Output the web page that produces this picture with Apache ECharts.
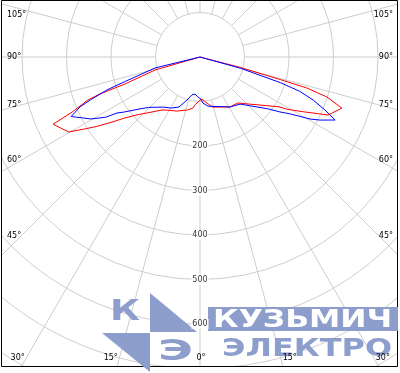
<!DOCTYPE html>
<html><head><meta charset="utf-8">
<script src="https://cdn.jsdelivr.net/npm/echarts@6/dist/echarts.min.js"></script>
<style>html,body{margin:0;padding:0;background:#fff}#c{width:400px;height:373px}</style>
</head><body><div id="c"></div>
<script>
// ---- data (gamma in degrees: + = left half, - = right half; intensity in cd) ----
const redAngles = [90, 73.9, 70.2, 69.7, 69.0, 66.7, 65.4, 60.3, 58.0, 55.9, 53.5, 50.9, 47.4, 43.4, 35, 23, 13, 8, 5.9, 0, -2.8, -8.7, -14, -31, -39.6, -45, -54, -58, -59, -62, -64.6, -65.6, -70.2, -72.5, -73.8, -74.3, -75.5, -90];
const redValues = [0, 105, 179, 240, 270, 313, 363, 340, 305, 277, 246, 217, 192, 173, 145, 132, 122, 116, 108, 97, 95, 105, 116, 131, 134, 149, 186, 212, 228, 262, 298, 316, 339, 299, 250, 187, 93, 0];
const blueAngles = [90, 76.3, 71.9, 70.5, 68.6, 67.4, 65.2, 62.7, 60.4, 57.4, 56.0, 54.1, 49.1, 45.6, 36.5, 29.6, 22.8, 16.8, 12, 7.6, 3, -1.4, -3.7, -9.3, -31, -40.4, -46, -52.8, -55.5, -57.7, -60.6, -62.3, -65, -67, -69.2, -71, -72.3, -74.5, -90];
const blueValues = [0, 104, 177, 222, 265, 292, 319, 298, 282, 251, 225, 211, 178, 162, 140, 132, 122, 101, 87, 84, 90, 95, 104, 112, 131, 139, 158, 193, 218, 239, 284, 305, 335, 305, 272, 237, 190, 94, 0];
const radiusTicks = [200, 300, 400, 500, 600];
const sideAngleLabels = [105, 90, 75, 60, 45];
const bottomAngleLabels = [30, 15, 0];

// ---- layout constants ----
const CX = 200, CY = 57, R_MAX = 900, PX_PER_100 = 44.5;
const R_OUT = R_MAX / 100 * PX_PER_100;
const GRID = '#cdcdcd';
const LOGO = '#8d9ecc';
const FONT = '"DejaVu Sans", sans-serif';

function toPolar(angles, values) {
  return angles.map((g, i) => [values[i], g >= 0 ? g : 360 + g]);
}
function textEl(t, x, y, align, z) {
  return { type: 'text', x: x, y: y, z: z || 16, silent: true,
    style: { text: t, fill: '#000', font: '8px ' + FONT, fontSize: 8, fontFamily: FONT,
      textAlign: align, align: align, textVerticalAlign: 'middle', verticalAlign: 'middle' } };
}
const mctx = document.createElement('canvas').getContext('2d');
function logoText(t, x, yc, size, width, color) {
  const font = 'bold ' + size + 'px ' + FONT;
  mctx.font = font;
  const w = mctx.measureText(t).width;
  return { type: 'text', x: x, y: yc, z: 15, silent: true, scaleX: width / w, scaleY: 1,
    style: { text: t, fill: color, font: font, fontSize: size, fontWeight: 'bold', fontFamily: FONT,
      textAlign: 'left', align: 'left', textVerticalAlign: 'middle', verticalAlign: 'middle' } };
}

const graphics = [];
// masks outside the frame
graphics.push({ type: 'rect', z: 10, silent: true, shape: { x: 0, y: 367, width: 400, height: 6 }, style: { fill: '#fff' } });
graphics.push({ type: 'rect', z: 10, silent: true, shape: { x: 398, y: 0, width: 2, height: 373 }, style: { fill: '#fff' } });
graphics.push({ type: 'rect', z: 10, silent: true, shape: { x: 0, y: 0, width: 1, height: 373 }, style: { fill: '#fff' } });
// frame
graphics.push({ type: 'rect', z: 12, silent: true, shape: { x: 1.5, y: 0.5, width: 396, height: 366 }, style: { fill: null, stroke: '#000', lineWidth: 1 } });
// angle labels
sideAngleLabels.forEach(g => {
  const a = g * Math.PI / 180;
  let y = CY + 179 * Math.cos(a) / Math.sin(a);
  y = Math.max(y, 15);
  graphics.push(textEl(g + '°', 7, y, 'left'));
  graphics.push(textEl(g + '°', 393, y, 'right'));
});
bottomAngleLabels.forEach(g => {
  if (g === 0) { graphics.push(textEl('0°', CX + 1, 358, 'center')); return; }
  const dx = (358 - CY) * Math.tan(g * Math.PI / 180);
  graphics.push(textEl(g + '°', CX - dx - 1.5, 358, 'right'));
  graphics.push(textEl(g + '°', CX + dx + 2, 358, 'left'));
});
// watermark logo
graphics.push({ type: 'polygon', z: 15, silent: true, shape: { points: [[150, 293], [150, 332], [197, 332]] }, style: { fill: LOGO } });
graphics.push({ type: 'polygon', z: 15, silent: true, shape: { points: [[102, 333], [150, 333], [150, 372]] }, style: { fill: LOGO } });
graphics.push(logoText('К', 110, 313, 28, 30, LOGO));
graphics.push(logoText('Э', 158, 353, 28, 35, LOGO));
graphics.push({ type: 'rect', z: 15, silent: true, shape: { x: 208, y: 307, width: 190, height: 24 }, style: { fill: LOGO } });
graphics.push(logoText('КУЗЬМИЧ', 213, 320, 25, 179, '#fff'));
graphics.push(logoText('ЭЛЕКТРО', 222, 349.5, 24, 170, LOGO));

const chart = echarts.init(document.getElementById('c'), null, { renderer: 'canvas' });
chart.setOption({
  animation: false,
  polar: [
    { center: [CX, CY], radius: [PX_PER_100, R_OUT] },
    { center: [CX, CY], radius: [0, R_OUT] }
  ],
  angleAxis: [
    { polarIndex: 0, type: 'value', min: 0, max: 360, interval: 15, startAngle: 270, clockwise: true,
      axisLine: { show: false }, axisTick: { show: false }, axisLabel: { show: false },
      splitLine: { show: true, lineStyle: { color: GRID, width: 1 } } },
    { polarIndex: 1, type: 'value', min: 0, max: 360, startAngle: 270, clockwise: true, show: false,
      axisLine: { show: false }, axisTick: { show: false }, axisLabel: { show: false }, splitLine: { show: false } }
  ],
  radiusAxis: [
    { polarIndex: 0, type: 'value', min: 100, max: R_MAX, interval: 100,
      axisLine: { show: false }, axisTick: { show: false }, axisLabel: { show: false },
      splitLine: { show: true, lineStyle: { color: GRID, width: 1 } } },
    { polarIndex: 1, type: 'value', min: 0, max: R_MAX, show: false,
      axisLine: { show: false }, axisTick: { show: false }, axisLabel: { show: false }, splitLine: { show: false } }
  ],
  series: [
    { type: 'line', coordinateSystem: 'polar', polarIndex: 1, data: toPolar(redAngles, redValues),
      showSymbol: false, symbol: 'none', lineStyle: { color: '#ff0000', width: 1 }, itemStyle: { color: '#ff0000' }, z: 3 },
    { type: 'line', coordinateSystem: 'polar', polarIndex: 1, data: toPolar(blueAngles, blueValues),
      showSymbol: false, symbol: 'none', lineStyle: { color: '#0000ff', width: 1 }, itemStyle: { color: '#0000ff' }, z: 4 },
    { type: 'scatter', coordinateSystem: 'polar', polarIndex: 1, data: radiusTicks.map(v => [v, 0]),
      symbolSize: 1, itemStyle: { color: 'rgba(0,0,0,0)' }, z: 20, silent: true,
      label: { show: true, position: 'inside', formatter: p => String(p.value[0]), color: '#000',
        fontSize: 8, fontFamily: FONT, backgroundColor: '#fff', padding: [1, 1] } }
  ],
  graphic: { elements: graphics }
});
</script></body></html>
